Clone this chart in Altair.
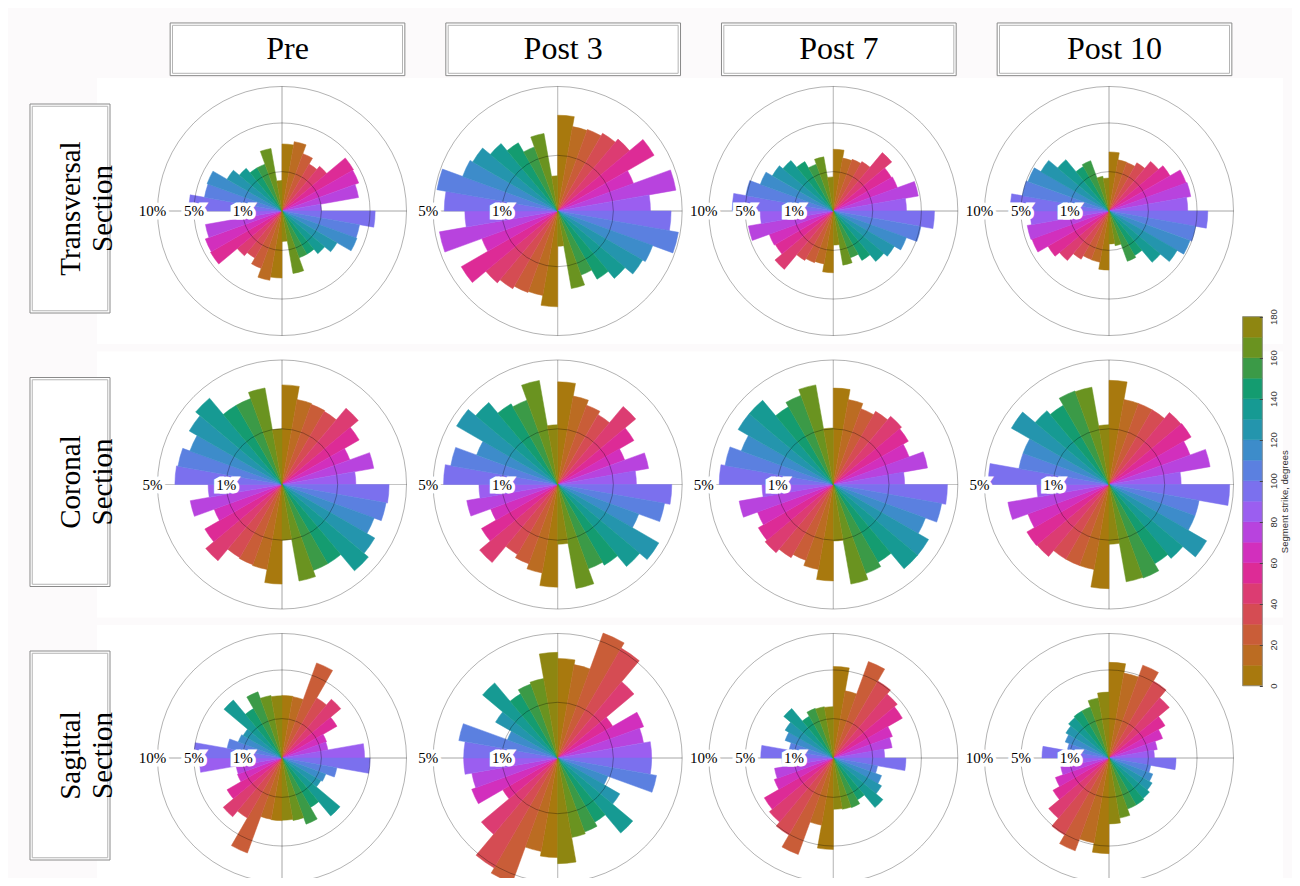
import math
import altair as alt
import pandas as pd

# ---------------- data ----------------
cols = ["Pre", "Post 3", "Post 7", "Post 10"]
rows = ["Transversal", "Coronal", "Sagittal"]
row_titles = ["Transversal\nSection", "Coronal\nSection", "Sagittal\nSection"]

strike_bins = list(range(0, 180, 10))          # strike bin starts, degrees
strike_colors = [
    "#a8790e", "#bb6c22", "#c95d38", "#d54c53", "#dc3c72", "#dd2b96",
    "#d22fbd", "#b843de", "#9b5ef0", "#7b70ee", "#5b80e0", "#3d8cca",
    "#2495ad", "#169a93", "#149c70", "#3b9a47", "#6a9320", "#8e8611",
]
colorbar_ticks = list(range(0, 181, 20))
ring_levels = [1, 5, 10]                         # percent rings
spoke_angles = [0, 90, 180, 270]
label_angle = 270

# outer ring (percent) of each panel, per row, in column order
transversal_max = [10, 5, 10, 10]
coronal_max = [5, 5, 5, 5]
sagittal_max = [10, 5, 10, 10]

# percent of segments per 10-degree strike bin (0-10 ... 170-180)
pre_transversal = [2.9, 3.2, 2.4, 1.9, 2.2, 4.4, 4.3, 3.9, 1.0, 5.6, 4.0, 4.1, 2.6, 2.0, 1.6, 1.6, 2.6, 0.6]
post3_transversal = [2.96, 2.37, 2.43, 2.6, 2.84, 4.0, 2.1, 4.65, 2.78, 4.15, 4.85, 3.3, 3.1, 2.5, 2.0, 1.5, 2.0, 0.4]
post7_transversal = [2.46, 1.86, 1.95, 2.1, 3.75, 2.9, 3.0, 4.8, 3.45, 6.6, 5.1, 3.9, 3.2, 2.8, 2.1, 1.6, 1.95, 0.75]
post10_transversal = [2.25, 1.74, 1.72, 2.0, 2.7, 3.2, 4.35, 4.45, 4.0, 6.3, 5.0, 4.8, 4.0, 2.9, 1.7, 1.85, 0.8, 0.7]

pre_coronal = [3.2, 2.4, 2.35, 2.3, 3.2, 2.56, 1.68, 2.8, 1.76, 3.7, 3.6, 3.1, 3.7, 4.1, 2.7, 2.7, 3.1, 1.0]
post3_coronal = [3.4, 2.6, 2.3, 2.1, 3.35, 2.5, 1.64, 2.75, 2.0, 4.2, 3.8, 2.4, 4.4, 3.7, 2.8, 2.6, 3.6, 1.15]
post7_coronal = [3.0, 2.4, 2.1, 2.3, 2.56, 2.42, 2.1, 2.95, 1.64, 4.2, 3.9, 3.1, 3.9, 3.9, 2.6, 2.9, 3.3, 1.03]
post10_coronal = [3.5, 2.4, 2.4, 2.4, 2.85, 2.9, 2.4, 3.4, 1.68, 4.7, 2.7, 2.7, 4.1, 3.0, 2.7, 3.2, 3.15, 1.15]

pre_sagittal = [2.53, 2.5, 6.6, 3.1, 3.8, 2.6, 1.45, 1.4, 4.4, 5.0, 2.0, 1.4, 1.3, 3.7, 2.1, 3.2, 2.6, 2.5]
post3_sagittal = [3.2, 2.9, 5.7, 5.2, 3.2, 1.3, 2.7, 2.45, 2.85, 2.85, 3.25, 0.92, 1.66, 3.1, 1.77, 2.0, 2.1, 3.6]
post7_sagittal = [5.4, 3.0, 6.8, 5.1, 4.5, 4.1, 2.55, 2.3, 1.7, 3.4, 1.3, 1.7, 2.0, 2.7, 1.5, 1.8, 1.75, 1.7]
post10_sagittal = [5.9, 4.8, 6.3, 5.1, 4.0, 2.7, 2.1, 1.55, 1.33, 2.9, 1.16, 1.4, 1.6, 1.8, 1.9, 1.9, 2.4, 2.8]

panel_values = {
    "Transversal": [pre_transversal, post3_transversal, post7_transversal, post10_transversal],
    "Coronal": [pre_coronal, post3_coronal, post7_coronal, post10_coronal],
    "Sagittal": [pre_sagittal, post3_sagittal, post7_sagittal, post10_sagittal],
}
panel_max = {"Transversal": transversal_max, "Coronal": coronal_max, "Sagittal": sagittal_max}

# ---------------- tables ----------------
wedges, rings, spokes = [], [], []
for r in rows:
    for ci, c in enumerate(cols):
        m = panel_max[r][ci]
        for s, v in zip(strike_bins, panel_values[r][ci]):
            for half in (0, 180):  # strike is axial: mirror each bin
                wedges.append(dict(row=r, col=c, strike=s, t0=s + half, t1=s + half + 10, pct=v, vmax=m))
        for a in spoke_angles:
            spokes.append(dict(row=r, col=c, a=a, level=m, vmax=m))
        for lv in ring_levels:
            if lv <= m:
                rings.append(dict(row=r, col=c, level=lv, vmax=m, a=label_angle, a2=label_angle + 360,
                                  label=f"{lv}%", outer=bool(lv == m)))

wedge_df = pd.DataFrame(wedges)
ring_df = pd.DataFrame(rings)
spoke_df = pd.DataFrame(spokes)
colhdr_df = pd.DataFrame({"col": cols})
rowhdr_df = pd.DataFrame({"row": rows, "title": row_titles})
cb_df = pd.DataFrame({"strike": strike_bins, "s1": [s + 10 for s in strike_bins]})
cb_frame_df = pd.DataFrame({"lo": [colorbar_ticks[0]], "hi": [colorbar_ticks[-1]]})

# ---------------- scales ----------------
X = alt.X("col:N", scale=alt.Scale(type="point", domain=cols, range=[274, 1101], padding=0), axis=None)


def Y():
    return alt.Y("row:N", scale=alt.Scale(type="point", domain=rows, range=[203, 750], padding=0), axis=None)


TH = alt.Scale(domain=[0, 720], range=[0, 2 * math.tau])
RS = alt.Scale(type="sqrt", domain=[0, 1], range=[0, 124.5], zero=True)
COLOR = alt.Scale(domain=strike_bins, range=strike_colors)
CB_Y = alt.Scale(domain=[0, 180], range=[677.7, 308.7])


def RAD():
    return alt.Radius("frac:Q", scale=RS, stack=False)


SERIF = "Liberation Serif"
SANS = "Liberation Sans"

# ---------------- layers ----------------
# white band behind each row of roses (page background is off-white)
row_band = alt.Chart(rowhdr_df).mark_point(
    shape="M-1,-0.2243L1,-0.2243L1,0.2243L-1,0.2243Z", size=1186 ** 2, filled=True,
    color="white", opacity=1, strokeWidth=0,
).encode(x=alt.value(682), y=Y())

spoke_layer = alt.Chart(spoke_df).transform_calculate(frac="datum.level / datum.vmax").mark_arc(
    fillOpacity=0, stroke="#c4c4c4", strokeWidth=1
).encode(
    x=X, y=Y(),
    theta=alt.Theta("a:Q", scale=TH, stack=False), theta2="a:Q",
    radius=RAD(),
)

wedge_layer = alt.Chart(wedge_df).transform_calculate(frac="datum.pct / datum.vmax").mark_arc(
    strokeWidth=0.5
).encode(
    x=X, y=Y(),
    theta=alt.Theta("t0:Q", scale=TH, stack=False), theta2="t1:Q",
    radius=RAD(),
    color=alt.Color("strike:O", scale=COLOR, legend=None),
    stroke=alt.Stroke("strike:O", scale=COLOR, legend=None),
)

# full circles: from the label angle once round
ring_layer = alt.Chart(ring_df).transform_calculate(frac="datum.level / datum.vmax").mark_arc(
    fillOpacity=0, stroke="black", strokeOpacity=0.3, strokeWidth=1
).encode(
    x=X, y=Y(),
    theta=alt.Theta("a:Q", scale=TH, stack=False), theta2="a2:Q",
    radius=RAD(),
)


def ring_labels(outer, halo):
    base = alt.Chart(ring_df).transform_calculate(frac="datum.level / datum.vmax")
    base = base.transform_filter("datum.outer" if outer else "!datum.outer")
    kw = dict(font=SERIF, fontSize=15, align="center", baseline="middle", dx=-5 if outer else 0)
    if halo:
        mk = base.mark_text(fill="white", stroke="white", strokeWidth=7, strokeJoin="miter", **kw)
    else:
        mk = base.mark_text(fill="black", **kw)
    return mk.encode(
        x=X, y=Y(),
        theta=alt.Theta("a:Q", scale=TH, stack=False),
        radius=RAD(),
        text="label:N",
    )


def box(shape, size, color, **pos):
    return dict(shape=shape, size=size, filled=False, color=color, strokeWidth=1, opacity=1, **pos)


col_box_fill = alt.Chart(colhdr_df).mark_point(
    shape="M-1,-0.2245L1,-0.2245L1,0.2245L-1,0.2245Z", size=234.7 ** 2, filled=True,
    color="white", opacity=1, strokeWidth=0, xOffset=5.5,
).encode(x=X, y=alt.value(41.3))
col_box_outer = alt.Chart(colhdr_df).mark_point(
    **box("M-1,-0.2245L1,-0.2245L1,0.2245L-1,0.2245Z", 234.7 ** 2, "#8a8a8a", xOffset=5.5)
).encode(x=X, y=alt.value(41.3))
col_box_inner = alt.Chart(colhdr_df).mark_point(
    **box("M-1,-0.2087L1,-0.2087L1,0.2087L-1,0.2087Z", 230 ** 2, "#b4b4b4", xOffset=5.5)
).encode(x=X, y=alt.value(41.3))
col_text = alt.Chart(colhdr_df).mark_text(
    font=SERIF, fontSize=32, color="black", align="center", baseline="middle", dx=5.5
).encode(x=X, y=alt.value(41.3), text="col:N")

row_box_fill = alt.Chart(rowhdr_df).mark_point(
    shape="M-0.3828,-1L0.3828,-1L0.3828,1L-0.3828,1Z", size=209 ** 2, filled=True,
    color="white", opacity=1, strokeWidth=0, yOffset=-2.5,
).encode(x=alt.value(62), y=Y())
row_box_outer = alt.Chart(rowhdr_df).mark_point(
    **box("M-0.3828,-1L0.3828,-1L0.3828,1L-0.3828,1Z", 209 ** 2, "#8a8a8a", yOffset=-2.5)
).encode(x=alt.value(62), y=Y())
row_box_inner = alt.Chart(rowhdr_df).mark_point(
    **box("M-0.3692,-1L0.3692,-1L0.3692,1L-0.3692,1Z", 204.5 ** 2, "#b4b4b4", yOffset=-2.5)
).encode(x=alt.value(62), y=Y())
row_text = alt.Chart(rowhdr_df).mark_text(
    font=SERIF, fontSize=29, color="black", angle=270, lineBreak="\n", lineHeight=32,
    align="center", baseline="middle", yOffset=-2.5,
).encode(x=alt.value(63.4), y=Y(), text="title:N")

cb_layer = alt.Chart(cb_df).mark_rect(strokeWidth=0.5).encode(
    x=alt.value(1234.7), x2=alt.value(1254.3),
    y=alt.Y("strike:Q", scale=CB_Y, axis=alt.Axis(
        orient="right", offset=-32.7, values=colorbar_ticks, grid=False, domain=False, zindex=2,
        ticks=True, tickSize=3, tickColor="#444", tickWidth=1,
        labelAngle=270, labelAlign="center", labelBaseline="top", labelPadding=6,
        labelFont=SANS, labelFontSize=9.5, labelColor="#333",
        title="Segment strike, degrees", titleAngle=270, titleFont=SANS, titleFontSize=9.5,
        titleFontWeight="normal", titleColor="#333", titlePadding=12,
    )),
    y2="s1:Q",
    color=alt.Color("strike:O", scale=COLOR, legend=None),
    stroke=alt.Stroke("strike:O", scale=COLOR, legend=None),
)
cb_frame = alt.Chart(cb_frame_df).mark_rect(fillOpacity=0, stroke="#8a8a8a", strokeWidth=0.8).encode(
    x=alt.value(1234.7), x2=alt.value(1254.3),
    y=alt.Y("lo:Q", scale=CB_Y, axis=None), y2="hi:Q",
)

chart = alt.layer(
    row_band,
    spoke_layer, wedge_layer, ring_layer,
    ring_labels(False, True), ring_labels(True, True),
    ring_labels(False, False), ring_labels(True, False),
    col_box_fill, col_box_outer, col_box_inner, col_text,
    row_box_fill, row_box_outer, row_box_inner, row_text,
    cb_layer, cb_frame,
).resolve_scale(y="independent").properties(
    width=1284, height=870, padding=0,
    autosize=alt.AutoSizeParams(type="none"),
    background="#fcfafb",
).configure_view(strokeWidth=0)

chart.save("out.html", embed_options={"renderer": "svg", "actions": False})
